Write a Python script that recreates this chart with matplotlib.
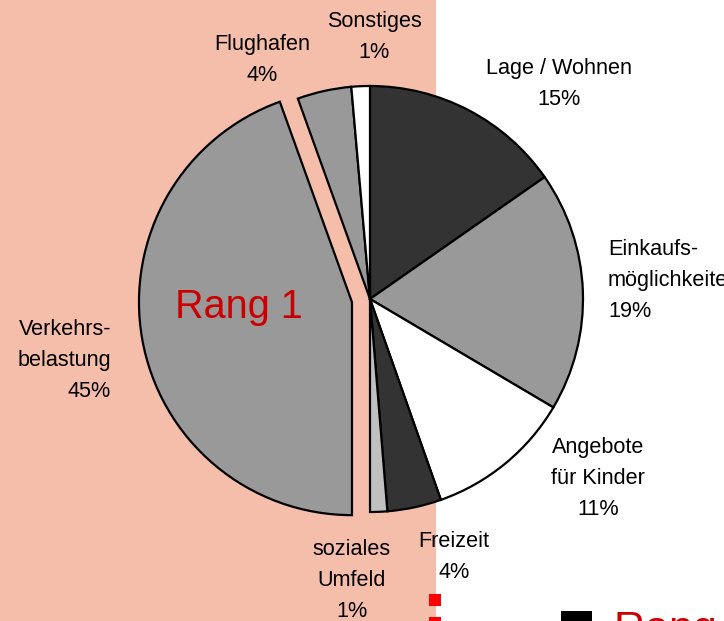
import matplotlib
matplotlib.use("Agg")
import matplotlib.pyplot as plt
from matplotlib.patches import Rectangle

# ---- data ----
categories = ["Lage / Wohnen", "Einkaufs-\nmöglichkeiten", "Angebote\nfür Kinder",
              "Freizeit", "soziales\nUmfeld", "Verkehrs-\nbelastung", "Flughafen", "Sonstiges"]
values = [15.3, 18.2, 11.1, 4.1, 1.3, 44.5, 4.1, 1.4]
pct_labels = ["15%", "19%", "11%", "4%", "1%", "45%", "4%", "1%"]
explode_flags = [0, 0, 0, 0, 0, 1, 0, 0]

# ---- styles ----
slice_colors = ["#333333", "#999999", "#ffffff", "#333333", "#c0c0c0", "#999999", "#999999", "#ffffff"]
W, H = 724, 621
FONT = "Liberation Sans"

def Y(py):
    return H - py

fig = plt.figure(figsize=(W / 100, H / 100), dpi=100)
ax = fig.add_axes([0, 0, 1, 1])

# salmon background panel
ax.add_patch(Rectangle((0, 0), 436, H, facecolor="#F5BEAB", edgecolor="none", zorder=0))

R = 213
ax.pie(values, colors=slice_colors, startangle=90, counterclock=False,
       explode=[18.3 * e for e in explode_flags],
       center=(370, Y(299)), radius=R, frame=True,
       wedgeprops=dict(edgecolor="black", linewidth=1.6, joinstyle="miter"))
ax.set_xlim(0, W)
ax.set_ylim(0, H)
ax.set_aspect("equal")
ax.set_axis_off()

# label layout: (x, first baseline, ha)
label_layout = [
    (559, 74, "center"),
    (608, 255, "left"),
    (598, 453, "center"),
    (454, 547, "center"),
    (352, 555, "center"),
    (111, 335, "right"),
    (262, 50, "center"),
    (374, 27, "center"),
]
LS = 31
for cat, pct, (x, y0, ha) in zip(categories, pct_labels, label_layout):
    lines = cat.split("\n") + [pct]
    for i, ln in enumerate(lines):
        ax.text(x, Y(y0 + i * LS), ln, ha=ha, va="baseline", fontsize=15.6,
                family=FONT, color="black", zorder=5)

ax.text(175, Y(318), "Rang 1", ha="left", va="baseline", fontsize=28.5,
        family=FONT, color="#CC0000", zorder=5)

# partial legend at bottom right
ax.add_patch(Rectangle((561, Y(640)), 31, 29, facecolor="black", edgecolor="none", zorder=5))
ax.text(614, Y(641), "Rang 1", ha="left", va="baseline", fontsize=31,
        family=FONT, color="#CC0000", zorder=5)

# red dashed marks
for ytop in (594, 617):
    ax.add_patch(Rectangle((429, Y(ytop + 12)), 12, 12, facecolor="#FF0000",
                           edgecolor="none", zorder=5))

fig.savefig("out.png", dpi=100)
